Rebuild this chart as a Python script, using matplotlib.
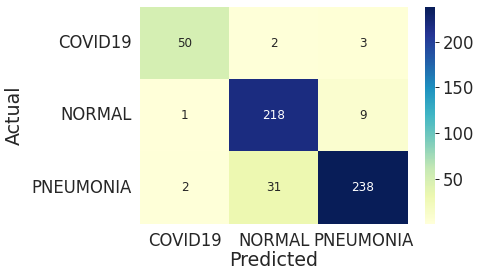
import numpy as np
import matplotlib
matplotlib.use('Agg')
import matplotlib.pyplot as plt
import seaborn as sns

labels = ['COVID19', 'NORMAL', 'PNEUMONIA']
cm = np.array([[50, 2, 3],
               [1, 218, 9],
               [2, 31, 238]])

sns.set_style('white')
plt.rcParams['font.family'] = ['DejaVu Sans']
plt.rcParams['text.color'] = '.15'
plt.rcParams['axes.labelcolor'] = '.15'
plt.rcParams['xtick.color'] = '.15'
plt.rcParams['ytick.color'] = '.15'

W, H = 483, 279
fig = plt.figure(figsize=(W / 72, H / 72), dpi=72)
ax = fig.add_axes([140 / W, 1 - 223.7 / H, (407.7 - 140) / W, (223.7 - 7) / H])
cax = fig.add_axes([425 / W, 1 - 223.7 / H, 10 / W, (223.7 - 7) / H])

sns.heatmap(cm, annot=True, fmt='d', cmap='YlGnBu', ax=ax, cbar_ax=cax,
            xticklabels=labels, yticklabels=labels, annot_kws={'size': 12})
ax.tick_params(axis='both', length=0, labelsize=16.5, pad=8)
ax.set_yticklabels(labels, rotation=0)
ax.set_xlabel('Predicted', fontsize=19, labelpad=1)
ax.set_ylabel('Actual', fontsize=19, labelpad=8)
cax.tick_params(labelsize=16.5, length=4, width=1)
cax.set_yticks([50, 100, 150, 200])
for s in cax.spines.values():
    s.set_visible(False)

fig.savefig('out.png', dpi=72)
